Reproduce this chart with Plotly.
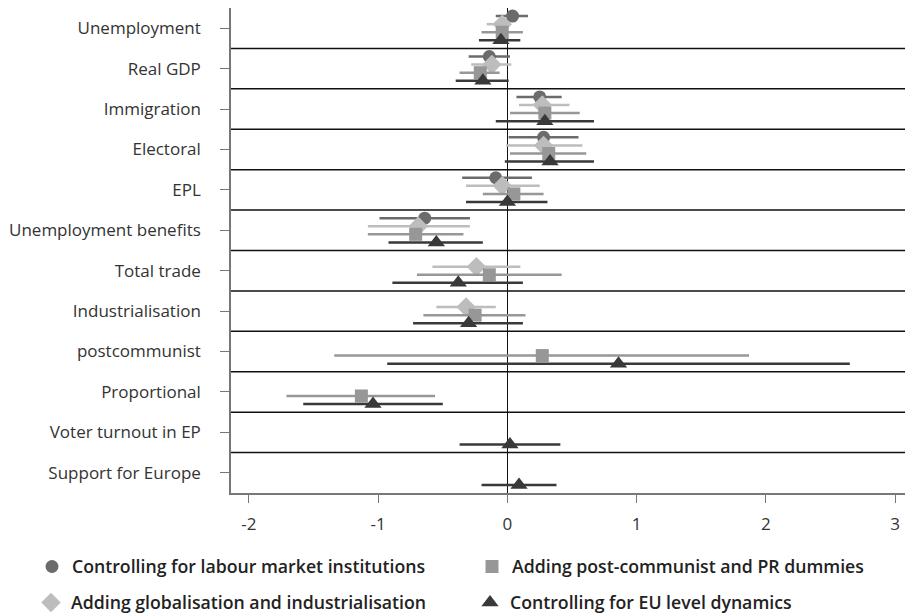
import plotly.graph_objects as go

# ---------------- data ----------------
categories = ["Unemployment", "Real GDP", "Immigration", "Electoral", "EPL",
              "Unemployment benefits", "Total trade", "Industrialisation",
              "postcommunist", "Proportional", "Voter turnout in EP",
              "Support for Europe"]

series_names = ["Controlling for labour market institutions",
                "Adding globalisation and industrialisation",
                "Adding post-communist and PR dummies",
                "Controlling for EU level dynamics"]

# point estimates
labour_est = [0.04, -0.14, 0.25, 0.28, -0.09, -0.64, None, None, None, None, None, None]
glob_est   = [-0.04, -0.12, 0.27, 0.28, -0.04, -0.69, -0.24, -0.32, None, None, None, None]
pc_est     = [-0.04, -0.21, 0.29, 0.32, 0.05, -0.71, -0.14, -0.25, 0.27, -1.13, None, None]
eu_est     = [-0.05, -0.19, 0.29, 0.33, 0.00, -0.55, -0.38, -0.30, 0.86, -1.04, 0.02, 0.09]

# lower confidence bounds
labour_lo = [-0.09, -0.30, 0.07, 0.01, -0.35, -0.99, None, None, None, None, None, None]
glob_lo   = [-0.16, -0.28, 0.09, -0.01, -0.32, -1.08, -0.58, -0.55, None, None, None, None]
pc_lo     = [-0.20, -0.37, 0.02, 0.02, -0.19, -1.08, -0.70, -0.65, -1.34, -1.71, None, None]
eu_lo     = [-0.22, -0.40, -0.09, -0.02, -0.32, -0.92, -0.89, -0.73, -0.93, -1.58, -0.37, -0.20]

# upper confidence bounds
labour_hi = [0.16, 0.02, 0.42, 0.55, 0.19, -0.29, None, None, None, None, None, None]
glob_hi   = [0.02, 0.03, 0.48, 0.58, 0.25, -0.29, 0.10, -0.09, None, None, None, None]
pc_hi     = [0.12, -0.06, 0.56, 0.61, 0.28, -0.34, 0.42, 0.14, 1.87, -0.56, None, None]
eu_hi     = [0.10, 0.01, 0.67, 0.67, 0.31, -0.19, 0.12, 0.12, 2.65, -0.50, 0.41, 0.38]

x_ticks = [-2, -1, 0, 1, 2, 3]

# ---------------- page geometry ----------------
W, H = 905, 615

# legend placement (pixels of the legend box left edge / item centre)
styles = [
    dict(symbol="circle", size=13, color="#6b6b6b", offset=-0.3, legend="legend",
         lx=32, ly=567),
    dict(symbol="diamond", size=15, color="#bdbdbd", offset=-0.1, legend="legend2",
         lx=31, ly=603),
    dict(symbol="square", size=13, color="#979797", offset=0.1, legend="legend3",
         lx=472, ly=567),
    dict(symbol="triangle-up", size=15, color="#393939", offset=0.3, legend="legend4",
         lx=470, ly=603),
]
estimates = [labour_est, glob_est, pc_est, eu_est]
lows = [labour_lo, glob_lo, pc_lo, eu_lo]
highs = [labour_hi, glob_hi, pc_hi, eu_hi]

FONT = "Open Sans"
fig = go.Figure()

for name, st, est, lo, hi in zip(series_names, styles, estimates, lows, highs):
    xs, ys, plus, minus = [], [], [], []
    for i, (e, l, h) in enumerate(zip(est, lo, hi)):
        if e is None:
            continue
        xs.append(e)
        ys.append(i + st["offset"])
        plus.append(h - e)
        minus.append(e - l)
    fig.add_trace(go.Scatter(
        x=xs, y=ys, mode="markers", name=name,
        legend=st["legend"],
        marker=dict(symbol=st["symbol"], size=st["size"], color=st["color"],
                    line=dict(width=0)),
        error_x=dict(type="data", symmetric=False, array=plus, arrayminus=minus,
                     width=0, thickness=2.5, color=st["color"]),
        hoverinfo="x+y+name",
    ))

# separators between category rows
for k in range(len(categories) - 1):
    fig.add_shape(type="line", xref="paper", x0=0, x1=1, yref="y",
                  y0=k + 0.5, y1=k + 0.5, line=dict(color="#111111", width=1.5),
                  layer="below")

legend_font = dict(family=FONT, size=17.7, color="#222222", weight=600)
legends = {}
for st in styles:
    legends[st["legend"]] = dict(
        orientation="h", xref="container", yref="container",
        x=st["lx"] / W, xanchor="left",
        y=1 - st["ly"] / H, yanchor="middle",
        font=legend_font, bgcolor="rgba(0,0,0,0)")

fig.update_layout(
    width=W, height=H,
    margin=dict(l=231, r=0, t=8, b=H - 493, autoexpand=False),
    paper_bgcolor="white", plot_bgcolor="white",
    font=dict(family=FONT, size=17, color="#333333"),
    showlegend=True,
    **legends,
    xaxis=dict(range=[-2.139, 3.077], tickvals=x_ticks, ticktext=[str(v) for v in x_ticks],
               automargin=False,
               showgrid=False, zeroline=True, zerolinecolor="#111111", zerolinewidth=1,
               showline=True, linecolor="#777777", linewidth=1.5,
               ticks="outside", ticklen=8, tickcolor="#777777", tickwidth=1.2,
               ticklabelstandoff=7, tickfont=dict(size=17, color="#333333")),
    yaxis=dict(range=[11.5, -0.5], tickvals=list(range(len(categories))), ticktext=categories,
               automargin=False,
               showgrid=False, zeroline=False,
               showline=True, linecolor="#777777", linewidth=1.5,
               ticks="outside", ticklen=9, tickcolor="#777777", tickwidth=1.2,
               ticklabelstandoff=16, tickfont=dict(size=17, color="#333333")),
)

# remove the browser's default page margin so the 905x615 figure fills the window
fig.write_html("out.html",
               config={"displayModeBar": False},
               post_script="document.body.style.margin='0px';"
                           "document.body.style.overflow='hidden';")
